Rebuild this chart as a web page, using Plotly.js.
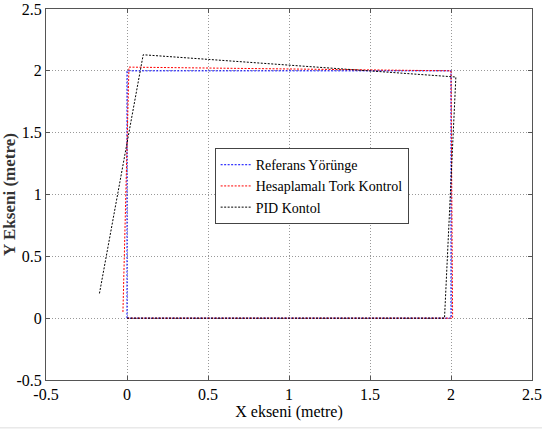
<!DOCTYPE html>
<html>
<head>
<meta charset="utf-8">
<script src="https://cdn.plot.ly/plotly-3.0.1.min.js"></script>
<style>html,body{margin:0;padding:0;background:#fff;}#chart{width:542px;height:432px;}</style>
</head>
<body>
<div id="chart"></div>
<script>
// Data
const refX = [0, 0, 2, 2, 0];
const refY = [0, 2, 2, 0, 0];
const ctcX = [-0.025, 0.012, 2.0, 2.01, 0];
const ctcY = [0.05, 2.03, 2.0, 0, 0];
const pidX = [-0.17, 0.1, 2.03, 1.96, 0];
const pidY = [0.2, 2.13, 1.95, 0, 0];
const seriesNames = ["Referans Yörünge", "Hesaplamalı Tork Kontrol", "PID Kontol"];
const tickVals = [-0.5, 0, 0.5, 1, 1.5, 2, 2.5];
const tickText = ["-0.5", "0", "0.5", "1", "1.5", "2", "2.5"];

const serif = "Liberation Serif";
const traces = [
  {x: refX, y: refY, name: seriesNames[0], mode: "lines", line: {color: "#0000ff", width: 1, dash: "2px,1.5px"}},
  {x: ctcX, y: ctcY, name: seriesNames[1], mode: "lines", line: {color: "#ff0000", width: 1, dash: "2px,1.5px"}},
  {x: pidX, y: pidY, name: seriesNames[2], mode: "lines", line: {color: "#000000", width: 1, dash: "2px,1.5px"}}
];
function axis(extra) {
  return Object.assign({
    tickmode: "array", tickvals: tickVals, ticktext: tickText,
    showgrid: true, gridcolor: "#999999", griddash: "1px,2px", gridwidth: 1,
    zeroline: false, showline: true, linecolor: "#555555", linewidth: 1, mirror: "ticks",
    ticks: "inside", ticklen: 4, tickcolor: "#555555",
    ticklabeloverflow: "allow",
    tickfont: {family: serif, size: 16, color: "#000000"}
  }, extra);
}
const layout = {
  width: 542, height: 432,
  margin: {l: 46, r: 10, t: 9, b: 52},
  paper_bgcolor: "#ffffff", plot_bgcolor: "#ffffff",
  font: {family: serif, size: 15},
  showlegend: true,
  xaxis: axis({range: [-0.5, 2.5],
    title: {text: "X ekseni (metre)", font: {family: serif, size: 16, color: "#000"}, standoff: 2}}),
  yaxis: axis({range: [-0.5, 2.5],
    title: {text: "<b>Y Ekseni (metre)</b>", font: {family: serif, size: 17, color: "#333"}, standoff: 8}}),
  legend: {x: 0.347, y: 0.625, xanchor: "left", yanchor: "top",
    bgcolor: "#ffffff", bordercolor: "#444", borderwidth: 1,
    font: {family: serif, size: 14, color: "#000"}, itemwidth: 30, tracegroupgap: 0},
  shapes: [{type: "line", xref: "paper", yref: "paper", x0: -46/486, x1: 496/486, y0: -0.129, y1: -0.129,
    line: {color: "#dddddd", width: 1}}]
};
Plotly.newPlot("chart", traces, layout, {displayModeBar: false, staticPlot: true});
</script>
</body>
</html>
